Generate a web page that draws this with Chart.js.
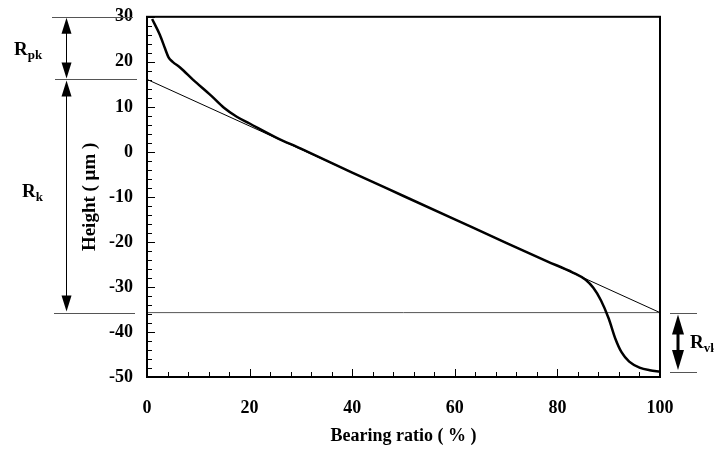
<!DOCTYPE html>
<html>
<head>
<meta charset="utf-8">
<script src="https://cdn.jsdelivr.net/npm/chart.js@4"></script>
<style>
  html, body { margin: 0; padding: 0; background: #fff; }
  #wrap { width: 714px; height: 450px; }
</style>
</head>
<body>
<div id="wrap"><canvas id="elGrafico" width="714" height="450"></canvas></div>
<script>
// bearing curve (Abbott-Firestone)
const bearingX = [1, 2.5, 3.5, 4.2, 5, 6.5, 9, 12.5, 15, 17.5, 20, 25, 30, 40, 50, 60, 70, 78, 83, 85.5, 87, 88.5, 90, 91.3, 92.5, 94, 96, 98, 100]
const heightY = [29.5, 26, 23, 21, 20, 18.7, 16, 12.5, 9.8, 7.8, 6.3, 3.3, 0.7, -4.6, -9.8, -15.0, -20.2, -24.3, -26.8, -28.4, -30.2, -33, -37, -41.5, -44.5, -46.6, -47.9, -48.5, -48.8]

// equivalent straight line and the Rk / Rpk / Rvk limits
const lineX = [0, 100]
const lineY = [16.1, -35.7]
const rpkTop = 30
const rkTop = 16.1
const rkBottom = -35.7
const rvkBottom = -48.9

const xTicks = [0, 20, 40, 60, 80, 100]
const yTicks = [30, 20, 10, 0, -10, -20, -30, -40, -50]

const serif = "'Liberation Serif', 'Times New Roman', serif"

const curvePts = bearingX.map((x, i) => ({ x: x, y: heightY[i] }))
const tangentPts = lineX.map((x, i) => ({ x: x, y: lineY[i] }))
const rkLinePts = lineX.map((x) => ({ x: x, y: rkBottom }))

const arrow = (ctx, x, y1, y2, w, head, lw) => {
    // vertical double arrow between y1 (top) and y2 (bottom)
    ctx.save()
    ctx.strokeStyle = '#000'
    ctx.fillStyle = '#000'
    ctx.lineWidth = lw
    ctx.beginPath()
    ctx.moveTo(x, y1 + head - 2)
    ctx.lineTo(x, y2 - head + 2)
    ctx.stroke()
    ctx.beginPath()
    ctx.moveTo(x, y1)
    ctx.lineTo(x - w / 2, y1 + head)
    ctx.lineTo(x + w / 2, y1 + head)
    ctx.closePath()
    ctx.fill()
    ctx.beginPath()
    ctx.moveTo(x, y2)
    ctx.lineTo(x - w / 2, y2 - head)
    ctx.lineTo(x + w / 2, y2 - head)
    ctx.closePath()
    ctx.fill()
    ctx.restore()
}

const label = (ctx, x, y, main, sub) => {
    ctx.save()
    ctx.fillStyle = '#000'
    ctx.textBaseline = 'alphabetic'
    ctx.font = 'bold 19px ' + serif
    ctx.fillText(main, x, y)
    const w = ctx.measureText(main).width
    ctx.font = 'bold 13px ' + serif
    ctx.fillText(sub, x + w, y + 4)
    ctx.restore()
}

const hline = (ctx, x1, x2, y) => {
    ctx.save()
    ctx.strokeStyle = '#555'
    ctx.lineWidth = 1
    ctx.beginPath()
    ctx.moveTo(x1, Math.round(y) + 0.5)
    ctx.lineTo(x2, Math.round(y) + 0.5)
    ctx.stroke()
    ctx.restore()
}

const frameAndMarks = {
    id: 'frameAndMarks',
    afterDraw(chart) {
        const ctx = chart.ctx
        const a = chart.chartArea
        const xs = chart.scales.x
        const ys = chart.scales.y

        // box
        ctx.save()
        ctx.strokeStyle = '#000'
        ctx.lineWidth = 2
        ctx.strokeRect(a.left, a.top, a.right - a.left, a.bottom - a.top)

        // inner ticks
        ctx.lineWidth = 1
        ctx.beginPath()
        for (let v = -50; v <= 30; v += 2) {
            const py = Math.round(ys.getPixelForValue(v)) + 0.5
            const len = v % 10 === 0 ? 8 : 5
            ctx.moveTo(a.left, py)
            ctx.lineTo(a.left + len, py)
        }
        for (let v = 0; v <= 100; v += 4) {
            const px = Math.round(xs.getPixelForValue(v)) + 0.5
            const len = v % 20 === 0 ? 8 : 5
            ctx.moveTo(px, a.bottom)
            ctx.lineTo(px, a.bottom - len)
        }
        ctx.stroke()
        ctx.restore()

        // left annotations
        const yTop = ys.getPixelForValue(rpkTop)
        const yK = ys.getPixelForValue(rkTop)
        const yB = ys.getPixelForValue(rkBottom)
        const yV = ys.getPixelForValue(rvkBottom)
        hline(ctx, 52, 133, yTop)
        hline(ctx, 55, 137, yK)
        hline(ctx, 54, 135, yB)
        arrow(ctx, 66.5, yTop + 1, yK - 1, 10, 16, 1)
        arrow(ctx, 66.5, yK + 1, yB - 1, 10, 16, 1)
        label(ctx, 14, yTop + 38, 'R', 'pk')
        label(ctx, 22, (yK + yB) / 2 + 1, 'R', 'k')

        // right annotation
        hline(ctx, 670, 697, yB)
        hline(ctx, 670, 697, yV)
        arrow(ctx, 678, yB + 2, yV - 2, 12, 20, 3)
        label(ctx, 690, (yB + yV) / 2 + 6, 'R', 'vk')
    }
}

new Chart('elGrafico', {
    type: 'scatter',
    data: {
        datasets: [{
            data: curvePts,
            showLine: true,
            borderColor: '#000',
            borderWidth: 2.5,
            pointRadius: 0,
            cubicInterpolationMode: 'monotone'
        }, {
            data: tangentPts,
            showLine: true,
            borderColor: '#000',
            borderWidth: 1,
            pointRadius: 0
        }, {
            data: rkLinePts,
            showLine: true,
            borderColor: '#555',
            borderWidth: 1,
            pointRadius: 0
        }]
    },
    options: {
        responsive: false,
        animation: false,
        layout: { padding: { top: 6, right: 54, left: 0, bottom: 0 } },
        plugins: {
            legend: { display: false },
            tooltip: { enabled: false }
        },
        scales: {
            x: {
                type: 'linear',
                min: 0,
                max: 100,
                afterFit: (s) => { s.height = 73 },
                afterBuildTicks: (s) => { s.ticks = xTicks.map((v) => ({ value: v })) },
                grid: { display: false },
                border: { display: false },
                ticks: {
                    padding: 13,
                    color: '#000',
                    font: { family: serif, size: 18, weight: 'bold' }
                },
                title: {
                    display: true,
                    text: 'Bearing ratio ( % )',
                    color: '#000',
                    padding: { top: 0, bottom: 3 },
                    font: { family: serif, size: 18, weight: 'bold' }
                }
            },
            y: {
                type: 'linear',
                min: -50,
                max: 30,
                afterFit: (s) => { s.width = 147 },
                afterBuildTicks: (s) => { s.ticks = yTicks.map((v) => ({ value: v })) },
                grid: { display: false },
                border: { display: false },
                ticks: {
                    padding: 6,
                    color: '#000',
                    font: { family: serif, size: 18, weight: 'bold' }
                },
                title: {
                    display: true,
                    text: 'Height ( μm )',
                    color: '#000',
                    padding: { top: 79, bottom: 0 },
                    font: { family: serif, size: 19, weight: 'bold' }
                }
            }
        }
    },
    plugins: [frameAndMarks]
})
</script>
</body>
</html>
